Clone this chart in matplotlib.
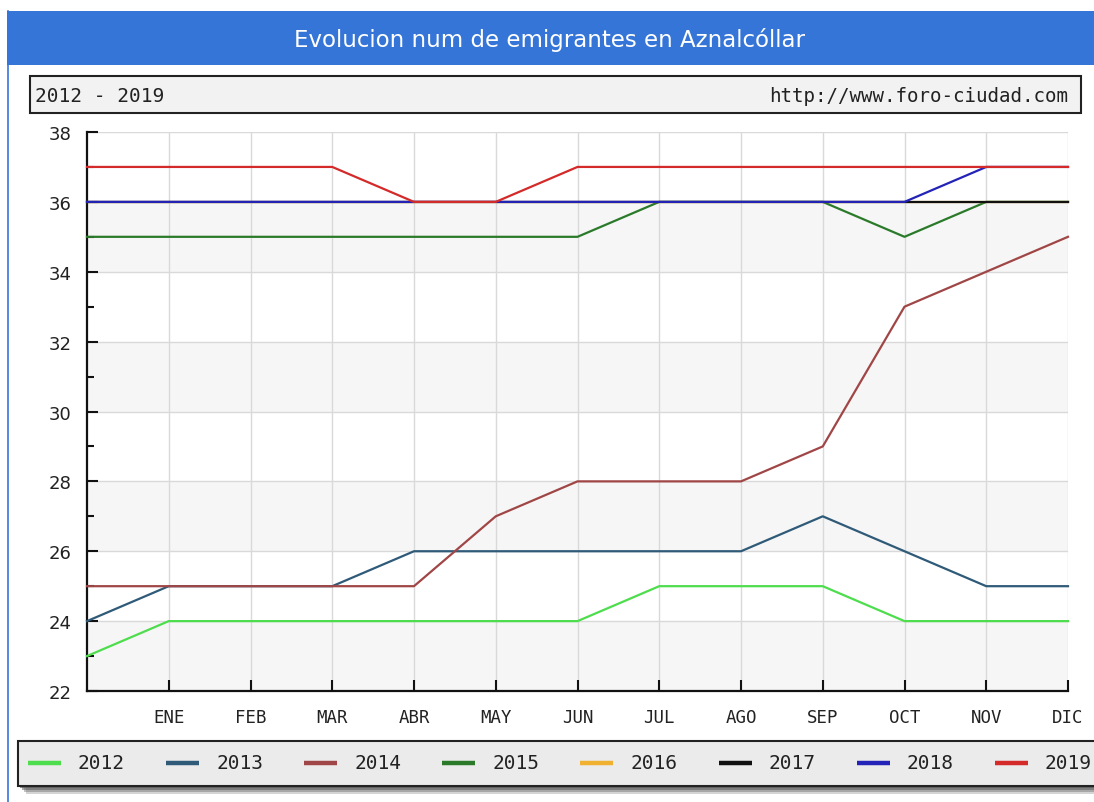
import matplotlib
matplotlib.use("Agg")
import matplotlib.pyplot as plt
from matplotlib.patches import Rectangle
from matplotlib.lines import Line2D
from matplotlib.ticker import MultipleLocator

# ---- data ----
months = ['ENE', 'FEB', 'MAR', 'ABR', 'MAY', 'JUN', 'JUL', 'AGO', 'SEP', 'OCT', 'NOV', 'DIC']
years = ['2012', '2013', '2014', '2015', '2016', '2017', '2018', '2019']
v2012 = [23, 24, 24, 24, 24, 24, 24, 25, 25, 25, 24, 24, 24]
v2013 = [24, 25, 25, 25, 26, 26, 26, 26, 26, 27, 26, 25, 25]
v2014 = [25, 25, 25, 25, 25, 27, 28, 28, 28, 29, 33, 34, 35]
v2015 = [35, 35, 35, 35, 35, 35, 35, 36, 36, 36, 35, 36, 36]
v2016 = [36, 36, 36, 36, 36, 36, 36, 36, 36, 36, 36, 36, 36]
v2017 = [36, 36, 36, 36, 36, 36, 36, 36, 36, 36, 36, 36, 36]
v2018 = [36, 36, 36, 36, 36, 36, 36, 36, 36, 36, 36, 37, 37]
v2019 = [37, 37, 37, 37, 36, 36, 37, 37, 37, 37, 37, 37, 37]
series = [v2012, v2013, v2014, v2015, v2016, v2017, v2018, v2019]
colors = ['#4ddd4d', '#2f5a78', '#a04646', '#2a7a2a', '#f0b030', '#111111', '#2323b8', '#d42a2a']
title = 'Evolucion num de emigrantes en Aznalcóllar'
subtitle_left = '2012 - 2019'
subtitle_right = 'http://www.foro-ciudad.com'

W, H = 1094, 803
fig = plt.figure(figsize=(W / 100, H / 100), dpi=100)
fig.patch.set_facecolor('white')

def fx(px):
    return px / W

def fy(py):
    return 1 - py / H

# title bar and frame
blue = '#3675d8'
fig.add_artist(Rectangle((fx(7), fy(66)), fx(W - 7), (66 - 12) / H, transform=fig.transFigure,
                         facecolor=blue, edgecolor='none'))
fig.add_artist(Line2D([fx(7.5), fx(7.5)], [fy(12), 0], transform=fig.transFigure, color=blue, lw=1.2))
fig.text(fx(549), fy(40), title, color='white', fontsize=16.5, ha='center', va='center',
         family='DejaVu Sans')

# subtitle box
fig.add_artist(Rectangle((fx(30), fy(114)), fx(1081 - 30), (114 - 77) / H, transform=fig.transFigure,
                         facecolor='#f2f2f2', edgecolor='#222222', lw=1.5))
fig.text(fx(35), fy(96), subtitle_left, fontsize=14, ha='left', va='center',
         family='DejaVu Sans Mono', color='#222222')
fig.text(fx(1068), fy(96), subtitle_right, fontsize=13.8, ha='right', va='center',
         family='DejaVu Sans Mono', color='#222222')

# axes
ax = fig.add_axes([fx(87), 111 / H, (1068 - 87) / W, (692 - 133) / H])
ax.set_xlim(0, 12)
ax.set_ylim(22, 38)
for lo in range(22, 38, 4):
    ax.axhspan(lo, lo + 2, color='#f6f6f6', zorder=0, lw=0)
ax.set_axisbelow(True)
ax.set_xticks(range(1, 13))
ax.set_xticklabels(months, family='DejaVu Sans Mono', fontsize=12.5, color='#222222')
ax.yaxis.set_major_locator(MultipleLocator(2))
ax.yaxis.set_minor_locator(MultipleLocator(1))
ax.tick_params(axis='x', direction='in', length=8, width=1.5, pad=12, colors='#111111',
               labelcolor='#222222')
ax.tick_params(axis='y', which='major', direction='in', length=8, width=1.5, pad=11,
               colors='#111111', labelcolor='#222222', labelsize=13)
ax.tick_params(axis='y', which='minor', direction='in', length=5, width=1.5, colors='#111111')
ax.grid(True, which='major', color='#d9d9d9', lw=1)
for s in ['top', 'right']:
    ax.spines[s].set_visible(False)
for s in ['left', 'bottom']:
    ax.spines[s].set_linewidth(1.6)
    ax.spines[s].set_color('#111111')

x = list(range(13))
for vals, c, yr in zip(series, colors, years):
    ax.plot(x, vals, color=c, lw=1.6, label=yr, clip_on=False, zorder=3)

# legend box with shadow
for k, a in enumerate([0.25, 0.35, 0.5, 0.65]):
    off = 8 - 2 * k
    fig.add_artist(Rectangle((fx(18 + off), fy(787 + off)), fx(W), (787 - 742) / H,
                             transform=fig.transFigure, facecolor='#555555', edgecolor='none',
                             alpha=a))
fig.add_artist(Rectangle((fx(18), fy(787)), fx(W), (787 - 742) / H, transform=fig.transFigure,
                         facecolor='#ebebeb', edgecolor='#222222', lw=1.5))
for i, (yr, c) in enumerate(zip(years, colors)):
    x0 = 28 + 138.1 * i
    fig.add_artist(Line2D([fx(x0), fx(x0 + 33)], [fy(764), fy(764)], transform=fig.transFigure,
                          color=c, lw=3.2, solid_capstyle='butt'))
    fig.text(fx(x0 + 50), fy(764), yr, fontsize=14, ha='left', va='center',
             family='DejaVu Sans Mono', color='#222222')

fig.savefig('out.png', dpi=100)
